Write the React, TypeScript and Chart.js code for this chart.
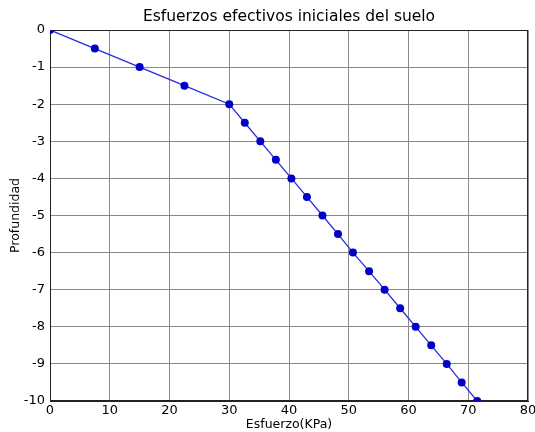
import React, { useEffect, useRef } from "react";
import Chart from "chart.js/auto";

// Effective stress (kPa) against depth (m)
const depths = [0, -0.5, -1, -1.5, -2, -2.5, -3, -3.5, -4, -4.5, -5, -5.5, -6, -6.5, -7, -7.5, -8, -8.5, -9, -9.5, -10];
const stresses = [0, 7.5, 15, 22.5, 30, 32.6, 35.2, 37.8, 40.4, 43.0, 45.6, 48.2, 50.7, 53.4, 56.0, 58.6, 61.2, 63.8, 66.4, 68.9, 71.5];

const titleText = "Esfuerzos efectivos iniciales del suelo";
const xTitle = "Esfuerzo(KPa)";
const yTitle = "Profundidad";

const FONT = "'DejaVu Sans', sans-serif";

// Plot frame plus a title centred over the plotting area
const frame = {
  id: "frame",
  beforeDatasetsDraw(chart: any) {
    const { ctx, chartArea } = chart;
    ctx.save();
    ctx.strokeStyle = "#222";
    ctx.lineWidth = 1;
    ctx.strokeRect(chartArea.left + 0.5, chartArea.top + 0.5, chartArea.right - chartArea.left - 1, chartArea.bottom - chartArea.top - 1);
    ctx.restore();
  },
  afterDraw(chart: any) {
    const { ctx, chartArea } = chart;
    ctx.save();
    ctx.fillStyle = "#000";
    ctx.font = `15.5px ${FONT}`;
    ctx.textAlign = "center";
    ctx.textBaseline = "middle";
    ctx.fillText(titleText, (chartArea.left + chartArea.right) / 2, 17);
    ctx.restore();
  },
};

export default function App() {
  const ref = useRef<HTMLCanvasElement>(null);

  useEffect(() => {
    if (!ref.current) return;
    const points = stresses.map((x, i) => ({ x, y: depths[i] }));
    const chart = new Chart(ref.current, {
      type: "scatter",
      data: {
        datasets: [
          {
            data: points,
            showLine: true,
            borderColor: "#2a2ae0",
            borderWidth: 1.3,
            backgroundColor: "#0000c8",
            pointBackgroundColor: "#0000c8",
            pointBorderColor: "#0000c8",
            pointRadius: 4,
            pointBorderWidth: 0,
            clip: 0,
          } as any,
        ],
      },
      options: {
        responsive: false,
        animation: false,
        layout: { padding: { left: 0, right: 7, top: 30, bottom: 0 } },
        plugins: {
          legend: { display: false },
          tooltip: { enabled: false },
          title: { display: false },
        },
        scales: {
          x: {
            type: "linear",
            min: 0,
            max: 80,
            ticks: { stepSize: 10, color: "#000", font: { family: FONT, size: 13 }, padding: 2, maxRotation: 0 },
            grid: { color: "#8a8a8a", lineWidth: 1, drawTicks: false },
            border: { color: "#222", width: 1 },
            title: { display: true, text: xTitle, color: "#000", font: { family: FONT, size: 12.5 }, padding: { top: 0, bottom: 0 } },
            afterFit(scale: any) {
              scale.height = 31;
              scale.paddingRight = 0;
              scale.paddingLeft = 0;
            },
          },
          y: {
            type: "linear",
            min: -10,
            max: 0,
            ticks: { stepSize: 1, color: "#000", font: { family: FONT, size: 13 }, padding: 5 },
            grid: { color: "#8a8a8a", lineWidth: 1, drawTicks: false },
            border: { color: "#222", width: 1 },
            title: { display: true, text: yTitle, color: "#000", font: { family: FONT, size: 12.5 }, padding: { top: 8, bottom: 0 } },
            afterFit(scale: any) {
              scale.width = 50;
              scale.paddingTop = 0;
              scale.paddingBottom = 0;
            },
          },
        },
      },
      plugins: [frame],
    });
    return () => chart.destroy();
  }, []);

  return (
    <div style={{ position: "fixed", left: 0, top: 0, width: 535, height: 432, background: "#fff" }}>
      <canvas ref={ref} width={535} height={432} style={{ display: "block" }} />
    </div>
  );
}
